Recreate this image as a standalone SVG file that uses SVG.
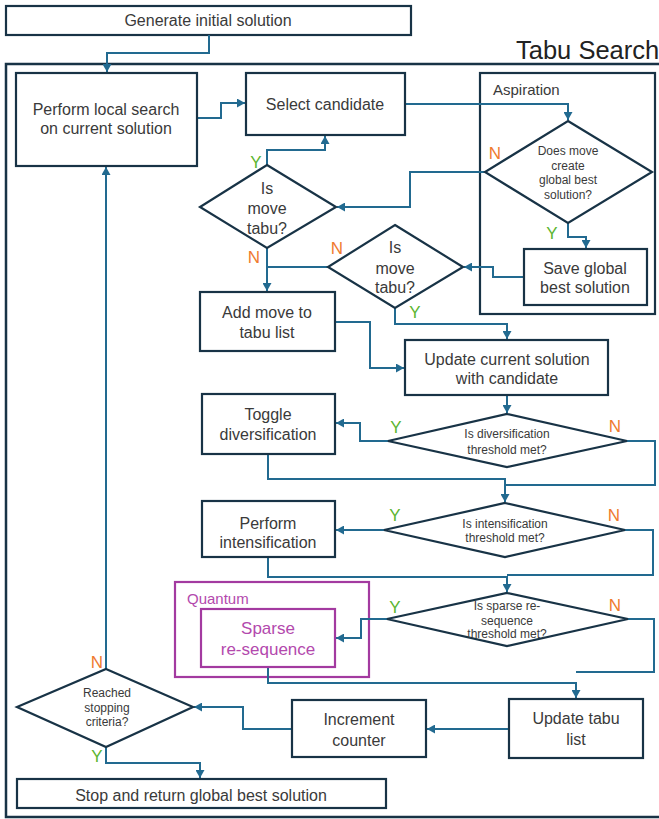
<svg xmlns="http://www.w3.org/2000/svg" width="659" height="819" viewBox="0 0 659 819">
<defs>
<marker id="ah" markerUnits="userSpaceOnUse" markerWidth="9" markerHeight="9" refX="8" refY="4.5" orient="auto">
<path d="M0,0 L8,4.5 L0,9 z" fill="#226a90"/>
</marker>
<style>
.box{fill:#fff;stroke:#183346;stroke-width:2.2}
.q{fill:none;stroke:#a33aa0;stroke-width:2.2}
.c{fill:none;stroke:#226a90;stroke-width:2}
.ca{fill:none;stroke:#226a90;stroke-width:2;marker-end:url(#ah)}
text{font-family:"Liberation Sans",Arial,sans-serif;fill:#3a3a3a;text-anchor:middle}
.t{font-size:16px}
.s{font-size:12px}
.y{font-size:17px;fill:#5cb531}
.n{font-size:17px;fill:#ef7b2f}
.p{fill:#b349ad}
</style>
</defs>
<rect width="659" height="819" fill="#fff"/>

<g id="outer">
<rect x="6" y="64" width="670" height="753" fill="none" stroke="#183346" stroke-width="2.5"/>
<text x="516" y="59" style="font-size:25.5px;text-anchor:start;fill:#222">Tabu Search</text>
</g>

<g id="generate"><rect class="box" x="6" y="6" width="405" height="29"/><text class="t" x="208" y="26">Generate initial solution</text></g>

<g id="aspiration"><rect class="box" x="480" y="73" width="175" height="241"/><text x="493" y="95" style="font-size:15px;text-anchor:start">Aspiration</text></g>

<g id="quantum"><rect class="q" x="175" y="582" width="194" height="95"/><text class="p" x="187" y="604" style="font-size:15px;text-anchor:start">Quantum</text></g>

<g id="connectors">
<path class="ca" d="M209,35 V53 H107 V72"/>
<path class="ca" d="M197,118 H221 V103 H245"/>
<path class="ca" d="M405,104 H568 V120"/>
<path class="ca" d="M485,172 H410 V207 H337"/>
<path class="ca" d="M568,223 V237 H586 V248"/>
<path class="ca" d="M524,277 H493 V267 H464"/>
<path class="ca" d="M267,165 V150 H325 V136"/>
<path class="ca" d="M267,248 V291"/>
<path class="c" d="M328,267 H267"/>
<path class="ca" d="M395,308 V324 H507 V339"/>
<path class="ca" d="M335,322 H370 V368 H404"/>
<path class="ca" d="M507,395 V413"/>
<path class="ca" d="M388,441 H360 V423 H336"/>
<path class="ca" d="M268,454 V479 H505 V502"/>
<path class="c" d="M627,441 H655 V485 H505"/>
<path class="ca" d="M384,530 H336"/>
<path class="ca" d="M268,557 V577 H507 V592"/>
<path class="c" d="M625,530 H653 V575 H507"/>
<path class="ca" d="M387,619 H361 V638 H336"/>
<path class="ca" d="M268,667 V683 H576 V698"/>
<path class="c" d="M628,619 H654 V672 H576"/>
<path class="ca" d="M509,729 H427"/>
<path class="ca" d="M292,729 H243 V707 H194"/>
<path class="ca" d="M106,747 V763 H200 V778"/>
<path class="ca" d="M106,669 V167"/>
</g>

<g id="local"><rect class="box" x="16" y="73" width="181" height="93"/><text class="t" x="106" y="115">Perform local search</text><text class="t" x="106" y="134">on current solution</text></g>

<g id="select"><rect class="box" x="246" y="73" width="159" height="62"/><text class="t" x="325" y="110">Select candidate</text></g>

<g id="asp-decision"><polygon class="box" points="568,121 652,172 568,223 485,172"/><text class="s" x="568" y="155">Does move</text><text class="s" x="568" y="170">create</text><text class="s" x="568" y="184">global best</text><text class="s" x="568" y="199">solution?</text></g>

<g id="save"><rect class="box" x="524" y="249" width="123" height="56"/><text class="t" x="585" y="274">Save global</text><text class="t" x="585" y="293">best solution</text></g>

<g id="tabu1"><polygon class="box" points="267,165 336,207 267,248 200,207"/><text class="t" x="267" y="194">Is</text><text class="t" x="267" y="214">move</text><text class="t" x="267" y="234">tabu?</text></g>

<g id="tabu2"><polygon class="box" points="395,225 463,267 395,308 328,267"/><text class="t" x="395" y="253">Is</text><text class="t" x="395" y="274">move</text><text class="t" x="395" y="293">tabu?</text></g>

<g id="addmove"><rect class="box" x="200" y="292" width="135" height="59"/><text class="t" x="267" y="318">Add move to</text><text class="t" x="267" y="338">tabu list</text></g>

<g id="update"><rect class="box" x="405" y="340" width="203" height="55"/><text class="t" x="507" y="365">Update current solution</text><text class="t" x="507" y="384">with candidate</text></g>

<g id="toggle"><rect class="box" x="202" y="394" width="133" height="60"/><text class="t" x="268" y="420">Toggle</text><text class="t" x="268" y="440">diversification</text></g>

<g id="div"><polygon class="box" points="507,414 627,441 507,467 388,441"/><text class="s" x="507" y="438">Is diversification</text><text class="s" x="507" y="454">threshold met?</text></g>

<g id="intens"><rect class="box" x="202" y="501" width="133" height="56"/><text class="t" x="268" y="529">Perform</text><text class="t" x="268" y="548">intensification</text></g>

<g id="int"><polygon class="box" points="505,503 625,530 505,557 384,530"/><text class="s" x="505" y="528">Is intensification</text><text class="s" x="505" y="542">threshold met?</text></g>

<g id="sparse"><rect class="q" x="201" y="609" width="134" height="58"/><text class="p" x="268" y="634" style="font-size:17px">Sparse</text><text class="p" x="268" y="655" style="font-size:17px">re-sequence</text></g>

<g id="sparse-decision"><polygon class="box" points="507,593 628,619 507,646 387,619"/><text class="s" x="507" y="610">Is sparse re-</text><text class="s" x="507" y="625">sequence</text><text class="s" x="507" y="638">threshold met?</text></g>

<g id="updatetabu"><rect class="box" x="509" y="699" width="134" height="59"/><text class="t" x="576" y="724">Update tabu</text><text class="t" x="576" y="745">list</text></g>

<g id="increment"><rect class="box" x="292" y="700" width="134" height="57"/><text class="t" x="359" y="725">Increment</text><text class="t" x="359" y="746">counter</text></g>

<g id="reached"><polygon class="box" points="106,669 193,707 106,747 17,707"/><text class="s" x="107" y="697">Reached</text><text class="s" x="107" y="712">stopping</text><text class="s" x="107" y="726">criteria?</text></g>

<g id="stop"><rect class="box" x="17" y="779" width="369" height="29"/><text class="t" x="201" y="801">Stop and return global best solution</text></g>

<g id="labels">
<text class="y" x="256" y="168">Y</text>
<text class="n" x="254" y="263">N</text>
<text class="n" x="337" y="254">N</text>
<text class="y" x="415" y="318">Y</text>
<text class="n" x="495" y="159">N</text>
<text class="y" x="552" y="239">Y</text>
<text class="y" x="396" y="433">Y</text>
<text class="n" x="615" y="432">N</text>
<text class="y" x="395" y="521">Y</text>
<text class="n" x="614" y="521">N</text>
<text class="y" x="395" y="613">Y</text>
<text class="n" x="615" y="611">N</text>
<text class="n" x="97" y="668">N</text>
<text class="y" x="97" y="762">Y</text>
</g>
</svg>
